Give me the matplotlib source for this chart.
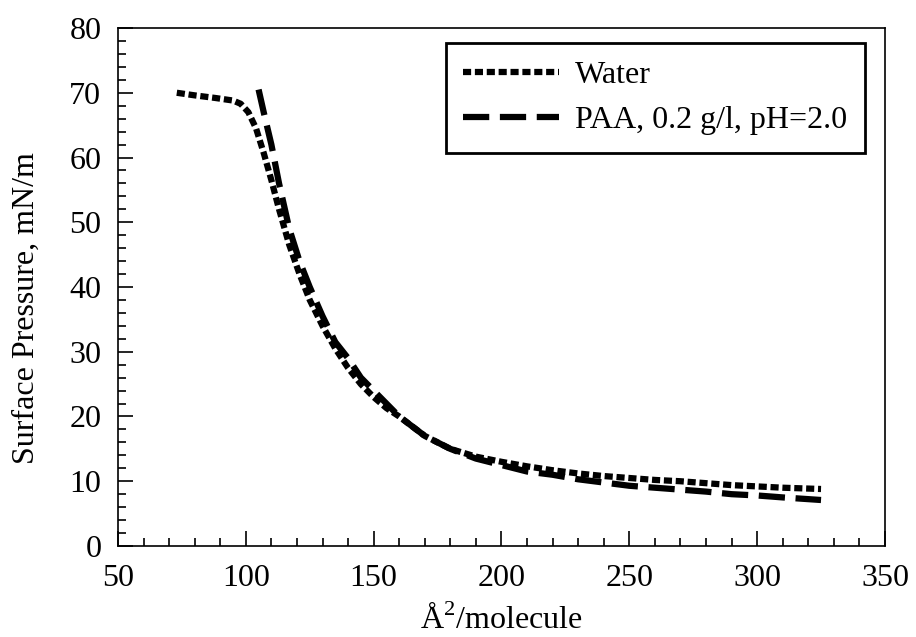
import matplotlib
matplotlib.use("Agg")
import matplotlib.pyplot as plt
from matplotlib.ticker import MultipleLocator

plt.rcParams['font.family'] = ['Liberation Serif', 'DejaVu Serif']
plt.rcParams['mathtext.fontset'] = 'custom'
plt.rcParams['mathtext.rm'] = 'Liberation Serif'

# Water subphase isotherm
water_area = [73, 80, 88, 95, 98, 101, 104, 107, 110, 113, 117, 121, 125, 130, 135,
              140, 145, 150, 155, 160, 170, 180, 190, 200, 210, 220, 230, 240, 250,
              260, 270, 280, 290, 300, 310, 325]
water_pi = [70, 69.6, 69.2, 68.8, 68.3, 67, 64.5, 60.7, 56.5, 52, 46.5, 42, 38, 34, 30.5,
            27.5, 25, 23, 21.3, 20, 17, 15, 13.8, 13, 12.3, 11.7, 11.2, 10.8, 10.5,
            10.2, 10, 9.7, 9.4, 9.2, 9, 8.8]

# PAA subphase isotherm
paa_area = [105, 107, 110, 113, 117, 121, 125, 130, 135, 140, 145, 150, 160, 170, 180,
            190, 200, 210, 220, 230, 240, 250, 260, 270, 280, 290, 300, 310, 325]
paa_pi = [70.5, 67, 62, 56, 49, 44, 40, 35.5, 31.5, 29, 26, 24, 20, 17, 15,
          13.5, 12.5, 11.5, 11, 10.3, 9.8, 9.3, 9, 8.7, 8.4, 8, 7.8, 7.5, 7.1]

fs = 23

fig = plt.figure(figsize=(9.16, 6.37), dpi=100)
ax = fig.add_axes([0.1288, 0.1429, 0.8373, 0.8131])

ax.plot(water_area, water_pi, color='black', lw=4.5, dashes=(1.3, 0.6),
        dash_capstyle='butt', label='Water')
ax.plot(paa_area, paa_pi, color='black', lw=4.5, dashes=(4.2, 1.7),
        dash_capstyle='butt', label='PAA, 0.2 g/l, pH=2.0')

ax.set_xlim(50, 350)
ax.set_ylim(0, 80)
ax.xaxis.set_major_locator(MultipleLocator(50))
ax.xaxis.set_minor_locator(MultipleLocator(10))
ax.yaxis.set_major_locator(MultipleLocator(10))
ax.yaxis.set_minor_locator(MultipleLocator(2))
ax.tick_params(which='both', direction='in', top=False, right=False,
               labelsize=fs, width=1.2)
ax.tick_params(axis='x', which='major', length=11, pad=13)
ax.tick_params(axis='y', which='major', length=11, pad=12)
ax.tick_params(which='minor', length=6)
for s in ax.spines.values():
    s.set_linewidth(1.2)

ax.set_xlabel('Å$^2$/molecule', fontsize=fs)
ax.set_ylabel('Surface Pressure, mN/m', fontsize=fs)
ax.xaxis.set_label_coords(0.5, -0.114)
ax.yaxis.set_label_coords(-0.1, 0.46)

leg = ax.legend(loc='upper right', bbox_to_anchor=(0.944, 0.9325),
                bbox_transform=fig.transFigure, fontsize=fs, fancybox=False,
                edgecolor='black', framealpha=1, handlelength=3.0,
                handletextpad=0.5, borderpad=0.55, labelspacing=0.5,
                borderaxespad=0)
leg.get_frame().set_linewidth(2)

fig.savefig('out.png', dpi=100)
